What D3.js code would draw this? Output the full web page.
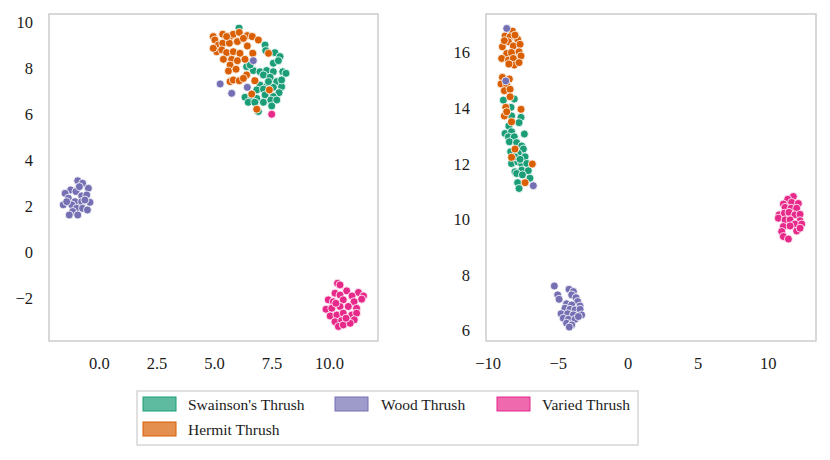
<!DOCTYPE html>
<html><head><meta charset="utf-8">
<script src="https://cdn.jsdelivr.net/npm/d3@7"></script>
<style>body{margin:0;background:#fff}svg{display:block}svg text{font-family:"Liberation Serif",Tinos,"Times New Roman",Times,"DejaVu Serif",serif !important}</style>
</head><body><svg id="c" width="830" height="460"></svg>
<script>
const species = ["Swainson's Thrush","Hermit Thrush","Wood Thrush","Varied Thrush"];
const colors = ["#1b9e77","#d95f02","#7570b3","#e7298a"];
const leftXTicks = [0,2.5,5,7.5,10];
const leftYTicks = [-2,0,2,4,6,8,10];
const rightXTicks = [-10,-5,0,5,10];
const rightYTicks = [6,8,10,12,14,16];

// Left panel points [x,y]
const leftSwainson = [[6.09,9.74],[7.22,9.01],[7.25,8.77],[7.65,8.68],[7.87,8.51],[7.58,8.22],[7.80,8.33],[6.42,8.07],[6.71,7.90],[7.00,7.85],[7.29,7.90],[7.58,7.85],[7.99,7.85],[8.13,7.78],[6.57,8.14],[7.15,7.71],[7.44,7.61],[7.73,7.42],[7.94,7.20],[7.00,7.27],[7.29,7.20],[7.58,7.17],[6.86,7.06],[7.15,7.09],[7.83,6.94],[6.35,6.74],[6.64,6.77],[6.86,6.69],[7.22,6.84],[7.58,6.77],[6.49,6.52],[6.78,6.52],[7.15,6.52],[7.47,6.62],[7.73,6.62],[6.93,6.12],[7.51,6.36],[7.37,7.42],[7.94,7.49]];
const leftHermit = [[4.97,9.38],[5.04,9.23],[5.38,9.48],[5.70,9.38],[5.84,9.48],[6.10,9.56],[6.45,9.42],[6.67,9.38],[6.93,9.23],[5.19,9.01],[5.38,9.09],[5.67,9.09],[6.02,9.16],[6.45,8.97],[5.12,8.72],[5.34,8.80],[5.55,8.68],[5.84,8.72],[6.13,8.65],[6.69,8.65],[7.37,8.65],[5.41,8.39],[5.77,8.39],[6.02,8.33],[6.35,8.39],[5.70,8.14],[5.63,7.88],[5.96,7.96],[6.42,7.71],[6.78,7.46],[5.70,7.42],[5.84,7.49],[6.10,7.46],[6.28,7.56],[6.64,6.88],[6.86,6.22],[7.41,7.06],[5.55,9.38],[6.28,9.30],[4.97,8.87]];
const leftWood = [[6.71,8.33],[5.27,7.32],[5.77,6.91],[6.45,7.17],[-0.92,3.11],[-0.71,3.00],[-1.23,2.71],[-0.46,2.78],[-1.47,2.56],[-1.00,2.64],[-0.75,2.45],[-0.53,2.49],[-1.33,2.35],[-1.04,2.20],[-0.75,2.20],[-0.39,2.17],[-1.55,2.06],[-1.18,2.06],[-0.97,1.91],[-0.71,1.91],[-0.50,1.84],[-1.14,1.77],[-1.29,1.62],[-0.92,1.62],[-1.40,2.20],[-0.61,2.27],[-0.85,2.85]];
const leftVaried = [[7.51,6.00],[10.37,-1.35],[10.48,-1.42],[10.77,-1.68],[11.28,-1.75],[11.50,-1.90],[10.26,-1.78],[10.48,-1.86],[11.00,-1.90],[9.97,-2.07],[10.19,-2.15],[10.62,-2.07],[11.09,-2.15],[11.42,-2.04],[9.87,-2.48],[10.12,-2.44],[10.48,-2.36],[10.84,-2.36],[11.20,-2.44],[10.05,-2.77],[10.34,-2.73],[10.62,-2.65],[10.99,-2.73],[11.20,-2.65],[10.26,-3.02],[10.55,-2.97],[10.84,-3.02],[11.10,-2.94],[10.41,-3.23],[10.62,-3.16],[10.92,-3.09],[10.74,-2.87],[10.30,-2.22]];

// Right panel points [x,y]
const rightSwainson = [[-8.88,14.29],[-8.10,14.33],[-8.33,14.03],[-8.29,13.72],[-7.62,13.67],[-7.76,13.48],[-8.48,13.36],[-8.76,13.09],[-8.29,13.15],[-8.52,12.97],[-8.10,12.97],[-7.38,13.07],[-8.45,12.79],[-7.93,12.76],[-7.57,12.64],[-7.45,12.53],[-8.36,12.43],[-7.81,12.37],[-7.33,12.25],[-8.29,12.01],[-7.86,12.07],[-7.57,11.99],[-7.21,12.01],[-8.05,11.71],[-7.57,11.77],[-7.10,11.75],[-7.93,11.65],[-7.52,11.60],[-6.98,11.48],[-7.86,11.32],[-7.76,11.11],[-8.05,12.25],[-7.69,12.16]];
const rightHermit = [[-8.24,16.77],[-8.76,16.60],[-8.40,16.57],[-7.86,16.48],[-8.95,16.21],[-8.52,16.39],[-8.17,16.24],[-7.69,16.30],[-8.64,15.97],[-8.29,16.00],[-7.76,16.03],[-7.62,15.88],[-9.00,15.79],[-8.52,15.73],[-8.17,15.79],[-8.10,15.55],[-8.48,15.59],[-7.76,15.64],[-8.81,16.43],[-8.05,16.63],[-8.95,15.11],[-8.45,15.05],[-9.05,14.87],[-8.64,14.83],[-8.81,14.63],[-8.40,14.68],[-8.40,14.41],[-8.71,14.03],[-7.62,13.96],[-8.81,13.72],[-8.29,13.51],[-8.05,12.53],[-8.29,12.23],[-6.81,11.99],[-7.33,11.32],[-8.64,13.87]];
const rightWood = [[-8.64,16.87],[-8.71,14.98],[-6.74,11.21],[-5.24,7.60],[-5.00,7.28],[-4.90,7.12],[-4.19,7.48],[-3.88,7.40],[-4.00,7.28],[-3.69,7.18],[-3.57,7.04],[-4.36,6.96],[-4.00,6.92],[-3.40,6.88],[-4.48,6.80],[-4.12,6.76],[-3.76,6.74],[-3.40,6.76],[-4.76,6.60],[-4.29,6.60],[-3.88,6.56],[-3.29,6.56],[-4.60,6.44],[-4.24,6.40],[-3.76,6.40],[-4.36,6.26],[-4.00,6.20],[-4.17,6.12],[-3.52,6.50]];
const rightVaried = [[11.83,10.82],[11.43,10.72],[11.12,10.55],[11.71,10.61],[12.19,10.57],[11.24,10.43],[11.67,10.40],[12.07,10.40],[10.81,10.16],[11.19,10.22],[11.52,10.25],[11.95,10.16],[12.31,10.18],[10.76,10.04],[11.24,9.98],[11.60,9.98],[12.31,9.95],[11.95,9.83],[12.43,9.83],[11.12,9.74],[11.60,9.76],[11.00,9.56],[12.07,9.58],[12.31,9.68],[11.12,9.38],[11.48,9.29]];

const svg = d3.select("#c");

function panel(opts){
  const {x0,x1,y0,y1,xd,yd,xt,yt,xf,sets} = opts;
  const x = d3.scaleLinear().domain(xd).range([x0,x1]);
  const y = d3.scaleLinear().domain(yd).range([y1,y0]);
  const g = svg.append("g");
  g.append("rect").attr("x",x0).attr("y",y0).attr("width",x1-x0).attr("height",y1-y0)
    .attr("fill","none").attr("stroke","#cccccc").attr("stroke-width",1.5);
  const ax = g.append("g").attr("transform",`translate(0,${y1})`)
    .call(d3.axisBottom(x).tickValues(xt).tickFormat(xf).tickSize(0).tickPadding(16));
  ax.select(".domain").remove();
  ax.selectAll("text").attr("font-size",16.5).attr("fill","#1a1a1a");
  const ay = g.append("g").attr("transform",`translate(${x0},0)`)
    .call(d3.axisLeft(y).tickValues(yt).tickFormat(d3.format("d")).tickSize(0).tickPadding(16));
  ay.select(".domain").remove();
  ay.selectAll("text").attr("font-size",16.5).attr("fill","#1a1a1a");
  sets.forEach((pts,i)=>{
    g.append("g").selectAll("circle").data(pts).join("circle")
      .attr("cx",d=>x(d[0])).attr("cy",d=>y(d[1])).attr("r",4)
      .attr("fill",colors[i]).attr("stroke","#fff").attr("stroke-width",0.8);
  });
}

panel({x0:49,x1:378,y0:14,y1:341,xd:[-2.17,12.13],yd:[-3.86,10.36],xt:leftXTicks,yt:leftYTicks,
  xf:d3.format(".1f"),sets:[leftSwainson,leftHermit,leftWood,leftVaried]});
panel({x0:486,x1:816,y0:14,y1:341,xd:[-10.12,13.45],yd:[5.62,17.39],xt:rightXTicks,yt:rightYTicks,
  xf:d3.format("d"),sets:[rightSwainson,rightHermit,rightWood,rightVaried]});

// Legend (column-major order, 3 columns)
const lg = svg.append("g");
lg.append("rect").attr("x",137).attr("y",391).attr("width",501).attr("height",54)
  .attr("fill","#fff").attr("stroke","#cccccc").attr("stroke-width",1.2);
const lx = [143,143,335,497], ly = [397,422,397,397], tx = [188,188,381,542];
species.forEach((s,i)=>{
  lg.append("rect").attr("x",lx[i]).attr("y",ly[i]).attr("width",33).attr("height",14)
    .attr("fill",colors[i]).attr("fill-opacity",0.7).attr("stroke",colors[i]).attr("stroke-width",1);
  lg.append("text").attr("x",tx[i]).attr("y",ly[i]+13).attr("font-size",15.5).attr("fill","#1a1a1a").text(s);
});
</script></body></html>
